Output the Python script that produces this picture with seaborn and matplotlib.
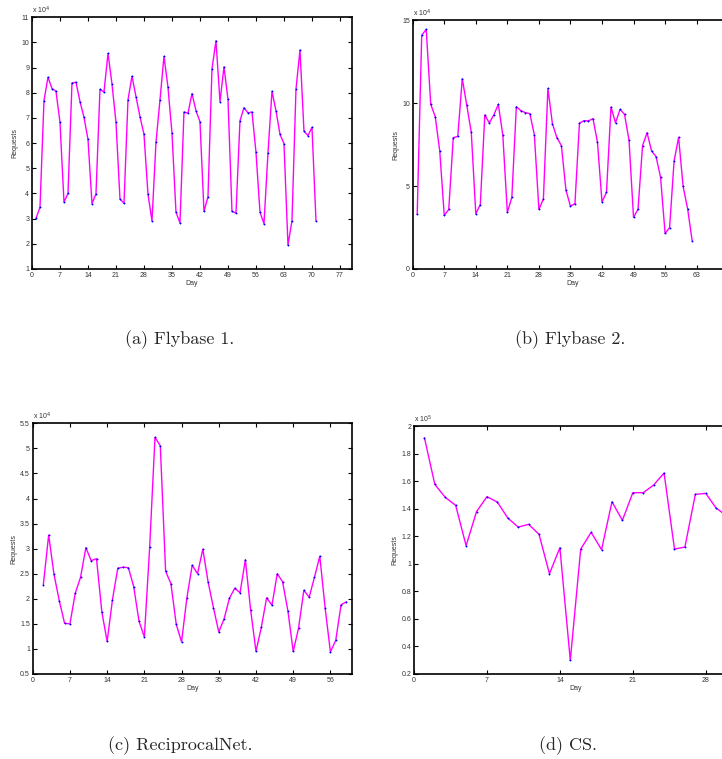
import numpy as np
import pandas as pd
import seaborn as sns
import matplotlib.pyplot as plt
from matplotlib.ticker import FormatStrFormatter


# Flybase 1 (x 10^4)
fly1_days = list(range(1, 72))
fly1_vals = [3.01, 3.45, 7.69, 8.62, 8.17, 8.06, 6.83, 3.66, 4.00, 8.39,
             8.42, 7.65, 7.03, 6.15, 3.60, 3.98, 8.14, 8.03, 9.57, 8.35,
             6.83, 3.78, 3.61, 7.72, 8.66, 7.85, 7.05, 6.35, 3.97, 2.91,
             6.03, 7.72, 9.45, 8.22, 6.39, 3.26, 2.83, 7.24, 7.19, 7.97,
             7.29, 6.85, 3.29, 3.87, 8.95, 10.07, 7.65, 9.03, 7.74, 3.29,
             3.22, 6.89, 7.41, 7.20, 7.24, 5.64, 3.26, 2.80, 5.61, 8.06,
             7.29, 6.35, 5.98, 1.95, 2.92, 8.14, 9.70, 6.48, 6.30, 6.63,
             2.91]

# Flybase 2 (x 10^4)
fly2_days = list(range(1, 63))
fly2_vals = [3.29, 14.08, 14.44, 9.92, 9.18, 7.11, 3.23, 3.59, 7.91, 7.99,
             11.47, 9.86, 8.23, 3.33, 3.88, 9.28, 8.80, 9.28, 9.92, 8.05,
             3.41, 4.32, 9.78, 9.54, 9.42, 9.36, 8.07, 3.59, 4.22, 10.88,
             8.75, 7.91, 7.43, 4.76, 3.78, 3.94, 8.78, 8.94, 8.92, 9.06,
             7.63, 4.04, 4.62, 9.76, 8.80, 9.62, 9.32, 7.75, 3.11, 3.61,
             7.43, 8.21, 7.11, 6.77, 5.52, 2.15, 2.49, 6.51, 7.93, 4.98,
             3.63, 1.71]

# ReciprocalNet (x 10^4)
rnet_days = list(range(2, 60))
rnet_vals = [2.28, 3.27, 2.49, 1.96, 1.51, 1.50, 2.11, 2.43, 3.02, 2.76,
             2.80, 1.74, 1.15, 1.98, 2.61, 2.63, 2.62, 2.24, 1.55, 1.24,
             3.03, 5.22, 5.05, 2.55, 2.30, 1.49, 1.14, 2.02, 2.67, 2.50,
             2.99, 2.33, 1.82, 1.34, 1.60, 2.01, 2.21, 2.12, 2.78, 1.77,
             0.95, 1.43, 2.02, 1.87, 2.50, 2.34, 1.76, 0.95, 1.41, 2.17,
             2.03, 2.43, 2.85, 1.82, 0.94, 1.17, 1.88, 1.94]

# CS (x 10^5)
cs_days = list(range(1, 31))
cs_vals = [1.918, 1.578, 1.484, 1.426, 1.133, 1.380, 1.489, 1.450, 1.334, 1.268,
           1.288, 1.215, 0.929, 1.118, 0.299, 1.108, 1.230, 1.104, 1.452, 1.317,
           1.518, 1.518, 1.574, 1.661, 1.108, 1.123, 1.506, 1.513, 1.406, 1.350]

captions = ["(a) Flybase 1.", "(b) Flybase 2.", "(c) ReciprocalNet.", "(d) CS."]

sns.set_style("ticks")
plt.rcParams['font.family'] = ['Liberation Sans', 'DejaVu Sans']

fig = plt.figure(figsize=(7.22, 7.59), dpi=100)

panels = [
    # days, values, rect, xlim, last x tick, ylim, yticks, exponent
    (fly1_days, fly1_vals, [0.0443, 0.6456, 0.4432, 0.3316], (0, 80), 77, (1, 11), np.arange(1, 12, 1), 4),
    (fly2_days, fly2_vals, [0.5716, 0.6456, 0.4432, 0.3280], (0, 71), 63, (0, 15), [0, 5, 10, 15], 4),
    (rnet_days, rnet_vals, [0.0453, 0.1120, 0.4418, 0.3303], (0, 60), 56, (0.5, 5.5), np.arange(0.5, 5.51, 0.5), 4),
    (cs_days, cs_vals, [0.5734, 0.1120, 0.4474, 0.3262], (0, 31), 28, (0.2, 2.0), np.arange(0.2, 2.01, 0.2), 5),
]

for days, vals, rect, xl, xmax_tick, yl, yt, exp in panels:
    ax = fig.add_axes(rect)
    df = pd.DataFrame({"Day": days, "Requests": vals})
    sns.lineplot(data=df, x="Day", y="Requests", ax=ax, color="magenta", linewidth=1.0,
                 marker="o", markersize=1.0, markerfacecolor="blue", markeredgecolor="blue",
                 markeredgewidth=0.3)
    ax.set_xlim(*xl)
    ax.set_ylim(*yl)
    ax.set_xticks(np.arange(0, xmax_tick + 1, 7))
    ax.set_yticks(yt)
    ax.yaxis.set_major_formatter(FormatStrFormatter('%g'))
    ax.tick_params(direction='in', length=3, width=0.8, labelsize=5, colors='black',
                   labelcolor='#333333', top=True, right=True, pad=2)
    for s in ax.spines.values():
        s.set_linewidth(1.2)
        s.set_color('black')
    ax.set_xlabel("Day", fontsize=5, labelpad=1, color='#333333')
    ax.set_ylabel("Requests", fontsize=5, labelpad=2, color='#333333')
    ax.text(0.0, 1.005, r'x 10$^{%d}$' % exp, transform=ax.transAxes, fontsize=5,
            ha='left', va='bottom', color='#333333')

cap_pos = [(0.249, 0.552), (0.79, 0.552), (0.249, 0.018), (0.787, 0.018)]
for (x, y), c in zip(cap_pos, captions):
    fig.text(x, y, c, fontsize=13, family='cmr10', ha='center', va='center')

fig.savefig("out.png", dpi=100)
